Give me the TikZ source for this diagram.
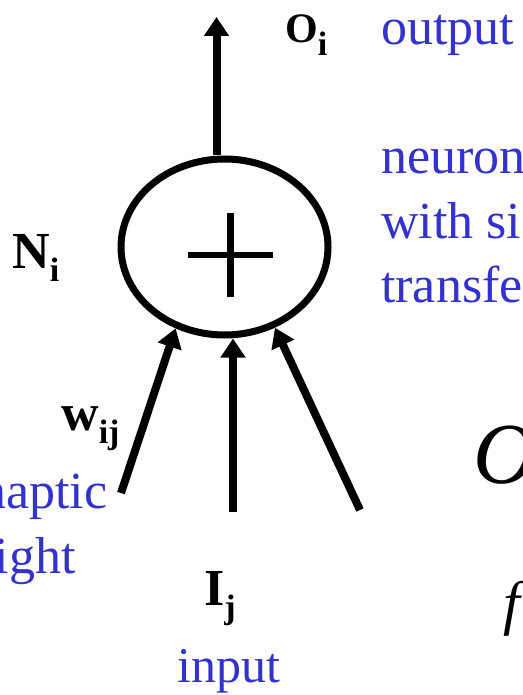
\documentclass[tikz,border=0pt]{standalone}
\usepackage{fontspec}
\setmainfont{Liberation Serif}
\usetikzlibrary{shapes.geometric,arrows.meta}
\definecolor{myblue}{RGB}{51,51,204}
\newcommand\sbx[2]{\raisebox{#1}{\fontsize{34}{34}\selectfont\bfseries #2}}
\tikzset{
  lbl/.style={inner sep=0pt, anchor=base west, font=\fontsize{52}{62}\selectfont\bfseries},
  blu/.style={inner sep=0pt, anchor=base west, text=myblue, font=\fontsize{52}{62}\selectfont},
  conn/.style={line width=8pt, -{Triangle[width=24pt,length=19pt]}},
}
\begin{document}
\begin{tikzpicture}[x=1pt,y=-1pt]
\useasboundingbox (0,0) rectangle (522,695);
\begin{scope}
\clip (0,0) rectangle (522,695);
% neuron
\node[ellipse, draw, line width=7pt, minimum width=207pt, minimum height=176pt, inner sep=0pt] (N) at (224.5,247) {};
\coordinate (pc) at (230.5,255);
\draw[line width=6.5pt] ([xshift=-42.5pt]pc) -- ([xshift=42.5pt]pc);
\draw[line width=6.5pt] ([yshift=42pt]pc) -- ([yshift=-42pt]pc);
% output
\coordinate (otip) at (216.5,17);
\draw[conn] (otip |- N.north) -- (otip);
% inputs
\coordinate (tl) at (121,493);
\coordinate (tm) at (233,512);
\coordinate (tr) at (360,510);
\draw[conn] (tl) -- (N.239);
\draw[conn] (tm) -- (tm |- N.south);
\draw[conn] (tr) -- (N.302.5);
% labels
\node[lbl, font=\fontsize{42}{50}\selectfont\bfseries] (Oi) at (285,43) {O\sbx{-13pt}{i}};
\node[lbl] (Ni) at (12,268) {N\sbx{-13pt}{i}};
\node[lbl] (wij) at (61,430) {w\sbx{-13pt}{ij}};
\node[lbl] (Ij) at (204,605) {I\sbx{-13pt}{j}};
\node[blu] (out) at (381,45) {output};
\node[blu] (neu1) at (381,173) {neuron};
\node[blu] (neu2) at (381,238) {with sigmoid};
\node[blu] (neu3) at (381,302) {transfer};
\node[blu] (syn1) at (-66,508) {synaptic};
\node[blu] (syn2) at (-66,573) {weight};
\node[blu, font=\fontsize{50}{60}\selectfont] (inp) at (177,682) {input};
\node[inner sep=0pt, anchor=base west, font=\fontsize{87}{90}\selectfont\itshape] (fO) at (473,483) {O};
\node[inner sep=0pt, anchor=base west, font=\fontsize{60}{70}\selectfont\itshape] (ff) at (503,623) {f};
\end{scope}
\end{tikzpicture}
\end{document}
